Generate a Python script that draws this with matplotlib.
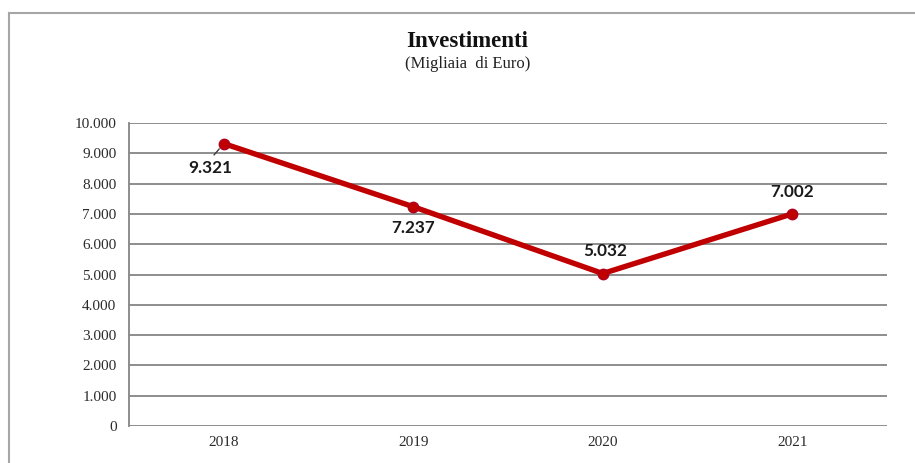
import matplotlib
matplotlib.use("Agg")
import matplotlib.pyplot as plt
from matplotlib.lines import Line2D
from matplotlib.ticker import FuncFormatter

# ── data ─────────────────────────────────────────────────────────────────────
years = ["2018", "2019", "2020", "2021"]
investimenti = [9321, 7237, 5032, 7002]
# label offsets in points (dx, dy) for each data label
label_offsets = [(-10, -17.5), (0, -15), (2, 16), (0, 16)]

RED = "#C00000"
GRID = "#858585"

fig = plt.figure(figsize=(9.15, 4.63), dpi=100)
fig.patch.set_facecolor("white")
ax = fig.add_axes([129 / 915, 1 - 426 / 463, (887 - 129) / 915, (426 - 123) / 463])

x = list(range(len(years)))
ax.plot(x, investimenti, color=RED, lw=3.9, marker="o", ms=7.5,
        mfc=RED, mec="#B00020", solid_capstyle="round", zorder=3)

for i, v in enumerate(investimenti):
    txt = f"{v:,}".replace(",", ".")
    dx, dy = label_offsets[i]
    arrow = None
    if i == 0:
        # short leader line from the label to its point
        arrow = dict(arrowstyle="-", color="#404040", lw=1.0, shrinkA=2, shrinkB=5,
                     relpos=(0.5, 1.0))
    ax.annotate(txt, (i, v), xytext=(dx, dy), textcoords="offset points",
                ha="center", va="center", fontsize=12.3, fontweight="bold",
                family="Lato", color="#1a1a1a", arrowprops=arrow, zorder=4)

ax.set_xlim(-0.5, len(years) - 0.5)
ax.set_ylim(0, 10000)
ax.set_yticks(range(0, 10001, 1000))
ax.yaxis.set_major_formatter(FuncFormatter(lambda v, p: f"{int(v):,}".replace(",", ".")))
ax.set_xticks(x)
ax.set_xticklabels(years)

ax.grid(axis="y", color=GRID, lw=1.3)
ax.set_axisbelow(True)
for side in ("top", "right", "bottom"):
    ax.spines[side].set_visible(False)
ax.spines["left"].set_color(GRID)
ax.spines["left"].set_linewidth(1.3)
ax.tick_params(length=0, labelsize=11, colors="#2b2b2b")
ax.tick_params(axis="y", pad=9)
ax.tick_params(axis="x", pad=7)
for lab in ax.get_xticklabels() + ax.get_yticklabels():
    lab.set_family("Liberation Serif")

fig.text(0.511, 0.911, "Investimenti", ha="center", va="center",
         fontsize=16.5, fontweight="bold", family="Liberation Serif", color="#111111")
fig.text(0.511, 0.862, "(Migliaia  di Euro)", ha="center", va="center",
         fontsize=12, family="Liberation Serif", color="#222222")

# outer chart frame (top and left edges)
fig.add_artist(Line2D([9 / 915, 1.0], [1 - 13 / 463, 1 - 13 / 463],
                      transform=fig.transFigure, color="#A6A6A6", lw=1.5))
fig.add_artist(Line2D([9 / 915, 9 / 915], [0.0, 1 - 13 / 463],
                      transform=fig.transFigure, color="#A6A6A6", lw=1.5))

plt.savefig("out.png", dpi=100, facecolor="white")
